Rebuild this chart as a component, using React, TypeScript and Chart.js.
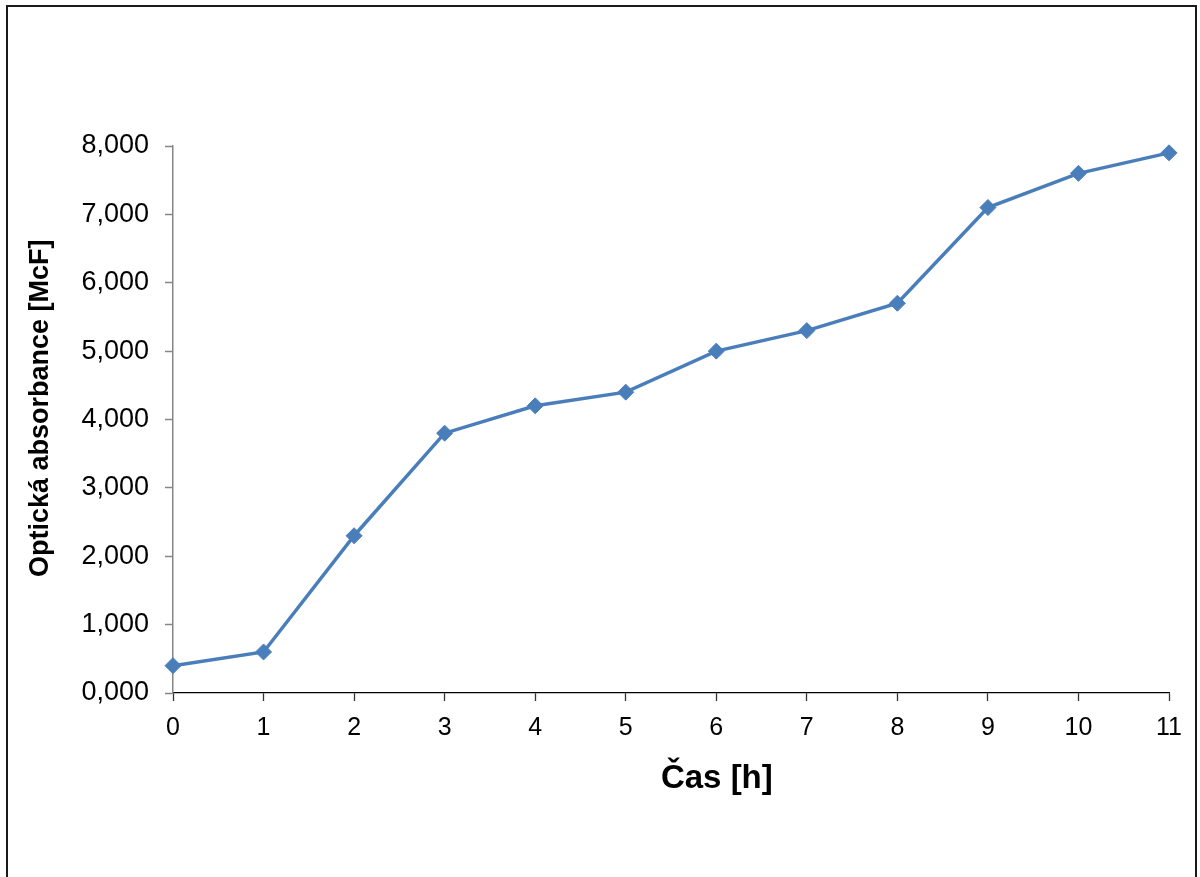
import React, { useEffect, useRef } from "react";
import { Chart, registerables } from "chart.js";

Chart.register(...registerables);

const hours = [0, 1, 2, 3, 4, 5, 6, 7, 8, 9, 10, 11];
const absorbance = [0.4, 0.6, 2.3, 3.8, 4.2, 4.4, 5.0, 5.3, 5.7, 7.1, 7.6, 7.9];
const xTitle = "          Čas [h]";
const yTitle = "   Optická absorbance [McF]";

const FONT = "'Liberation Sans', Arial, sans-serif";

export default function App() {
  const ref = useRef<HTMLCanvasElement | null>(null);

  useEffect(() => {
    if (!ref.current) return;
    const chart = new Chart(ref.current, {
      type: "line",
      data: {
        datasets: [
          {
            data: hours.map((h, i) => ({ x: h, y: absorbance[i] })),
            borderColor: "#4A7EBB",
            backgroundColor: "#4A7EBB",
            borderWidth: 3.5,
            pointStyle: "rectRot",
            pointRadius: 8,
            pointHoverRadius: 8,
            pointBorderWidth: 1,
            tension: 0,
            clip: false,
          },
        ],
      },
      options: {
        responsive: false,
        animation: false,
        events: [],
        layout: { padding: { left: 0, top: 146, right: 31, bottom: 0 } },
        plugins: { legend: { display: false }, tooltip: { enabled: false } },
        scales: {
          x: {
            type: "linear",
            min: 0,
            max: 11,
            afterFit: (s: any) => {
              s.height = 184;
            },
            border: { display: true, color: "#000000", width: 1.3 },
            grid: {
              drawOnChartArea: false,
              drawTicks: true,
              tickLength: 8,
              tickColor: "#333333",
              tickWidth: 1.3,
            },
            ticks: {
              stepSize: 1,
              color: "#000000",
              padding: 12,
              font: { family: FONT, size: 25 },
            },
            title: {
              display: true,
              text: xTitle,
              color: "#000000",
              font: { family: FONT, size: 33, weight: "bold" },
              padding: { top: 0, bottom: 78 },
            },
          },
          y: {
            type: "linear",
            min: 0,
            max: 8,
            afterFit: (s: any) => {
              s.width = 173;
            },
            border: { display: true, color: "#868686", width: 1.5 },
            grid: {
              drawOnChartArea: false,
              drawTicks: true,
              tickLength: 8,
              tickColor: "#868686",
              tickWidth: 1.5,
            },
            ticks: {
              stepSize: 1,
              color: "#000000",
              padding: 16,
              font: { family: FONT, size: 27 },
              callback: (v: any) => Number(v).toFixed(3).replace(".", ","),
            },
            title: {
              display: true,
              text: yTitle,
              color: "#000000",
              font: { family: FONT, size: 27, weight: "bold" },
              padding: { top: 24, bottom: 0 },
            },
          },
        },
      },
    });
    return () => chart.destroy();
  }, []);

  return (
    <div
      style={{
        position: "absolute",
        left: 0,
        top: 0,
        width: 1200,
        height: 877,
        overflow: "hidden",
        background: "#ffffff",
      }}
    >
      <canvas ref={ref} width={1200} height={877} style={{ display: "block" }} />
      <div
        style={{
          position: "absolute",
          left: 6,
          top: 5,
          width: 1191,
          height: 900,
          border: "2px solid #1a1a1a",
          boxSizing: "border-box",
          pointerEvents: "none",
        }}
      />
    </div>
  );
}
